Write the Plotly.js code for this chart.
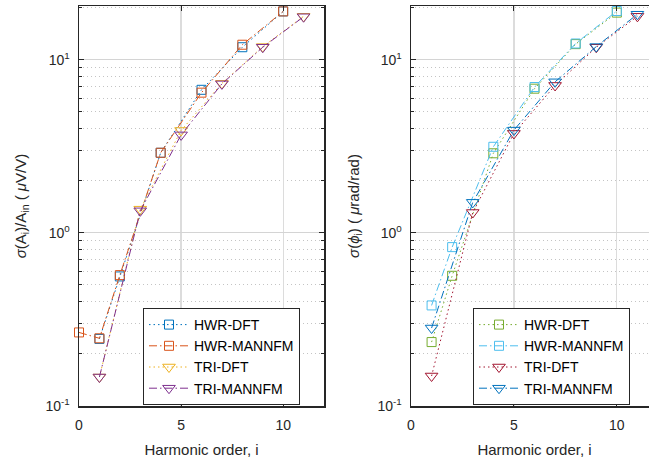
<!DOCTYPE html>
<html>
<head>
<meta charset="utf-8">
<script src="https://cdn.plot.ly/plotly-3.0.1.min.js"></script>
<style>html,body{margin:0;padding:0;overflow:hidden;background:#fff;}#chart{width:660px;height:462px;}</style>
</head>
<body>
<div id="chart"></div>
<script>
// ---- data ----
const iHwr0 = [0, 1, 2, 4, 6, 8, 10];
const iHwr = [1, 2, 4, 6, 8, 10];
const iTri = [1, 3, 5, 7, 9, 11];

// left panel: sigma(A_i)/A_in (uV/V)
const ampHwrDft = [0.244, 0.56, 2.90, 6.7, 11.8, 19.0];
const ampHwrMann = [0.266, 0.246, 0.57, 2.90, 6.45, 12.2, 19.0];
const ampTriDft = [0.147, 1.37, 3.9, 7.3, 11.9, 17.8];
const ampTriMann = [0.147, 1.34, 3.68, 7.25, 11.8, 17.7];

// right panel: sigma(phi_i) (urad/rad)
const phHwrDft = [0.234, 0.565, 2.88, 6.8, 12.3, 18.7];
const phHwrMann = [0.381, 0.827, 3.14, 6.95, 12.4, 19.1];
const phTriDft = [0.149, 1.31, 3.75, 7.1, 11.8, 17.8];
const phTriMann = [0.282, 1.50, 3.92, 7.45, 11.9, 18.3];

const names = ['HWR-DFT', 'HWR-MANNFM', 'TRI-DFT', 'TRI-MANNFM'];
const yTickVals = [0.1, 1, 10];
const yTickText = ['10<sup>-1</sup>', '10<sup>0</sup>', '10<sup>1</sup>'];
const xTickVals = [0, 5, 10];

const W = 660, H = 462;
const FONT = 'Liberation Sans, Arial, sans-serif';
const TXT = '#262626';
const DOT = '1.5px,3px';
const DASHDOT = '8px,3px,1.5px,3px';

function tr(x, y, name, color, dash, sym, size, xa, ya, leg) {
  return {
    x: x, y: y, name: name, type: 'scatter', mode: 'lines+markers',
    xaxis: xa, yaxis: ya, legend: leg, cliponaxis: false,
    line: {color: color, width: 1, dash: dash},
    marker: {symbol: sym, size: size, color: color, line: {color: color, width: 1}}
  };
}

const data = [
  tr(iHwr, ampHwrDft, names[0], '#0072BD', DOT, 'square-open', 9, 'x', 'y', 'legend'),
  tr(iHwr0, ampHwrMann, names[1], '#D95319', DASHDOT, 'square-open', 9, 'x', 'y', 'legend'),
  tr(iTri, ampTriDft, names[2], '#EDB120', DOT, 'triangle-down-open', 11, 'x', 'y', 'legend'),
  tr(iTri, ampTriMann, names[3], '#7E2F8E', DASHDOT, 'triangle-down-open', 11, 'x', 'y', 'legend'),
  tr(iHwr, phHwrDft, names[0], '#77AC30', DOT, 'square-open', 9, 'x2', 'y2', 'legend2'),
  tr(iHwr, phHwrMann, names[1], '#4DBEEE', DASHDOT, 'square-open', 9, 'x2', 'y2', 'legend2'),
  tr(iTri, phTriDft, names[2], '#A2142F', DOT, 'triangle-down-open', 11, 'x2', 'y2', 'legend2'),
  tr(iTri, phTriMann, names[3], '#0072BD', DASHDOT, 'triangle-down-open', 11, 'x2', 'y2', 'legend2')
];

function xax(domain) {
  return {
    domain: domain, range: [0, 12], tickvals: xTickVals, ticks: 'inside', ticklen: 5,
    tickcolor: TXT, tickwidth: 1, showline: true, linecolor: TXT, linewidth: 1.5, mirror: 'ticks',
    showgrid: true, gridcolor: '#dcdcdc', gridwidth: 1.2, zeroline: false,
    ticklabelstandoff: 6,
    tickfont: {family: FONT, size: 14, color: TXT},
    title: {text: 'Harmonic order, i', font: {family: FONT, size: 15, color: TXT}, standoff: 12}
  };
}
function yax(title, anchor, standoff) {
  return {
    type: 'log', domain: [56 / H, 456 / H], range: [-1, 1.31], anchor: anchor,
    tickvals: yTickVals, ticktext: yTickText, ticks: 'inside', ticklen: 5,
    tickcolor: TXT, tickwidth: 1, showline: true, linecolor: TXT, linewidth: 1.5, mirror: 'ticks',
    showgrid: true, gridcolor: '#d4d4d4', gridwidth: 1.2, zeroline: false,
    ticklabelstandoff: 5,
    minor: {dtick: 'D1', ticks: 'inside', ticklen: 3, tickcolor: TXT, showgrid: true,
            gridcolor: '#c4c4c4', griddash: '1px,3px', gridwidth: 1},
    tickfont: {family: FONT, size: 14, color: TXT},
    title: {text: title, font: {family: FONT, size: 15, color: TXT}, standoff: standoff}
  };
}
function leg(x) {
  return {
    x: x / W, y: (H - 308) / H, xanchor: 'left', yanchor: 'top', xref: 'paper', yref: 'paper',
    bgcolor: '#fff', bordercolor: TXT, borderwidth: 1,
    font: {family: FONT, size: 14, color: '#000'}, itemwidth: 40, tracegroupgap: 0
  };
}

const layout = {
  width: W, height: H, margin: {l: 0, r: 0, t: 0, b: 0},
  paper_bgcolor: '#fff', plot_bgcolor: '#fff', showlegend: true,
  xaxis: Object.assign(xax([79 / W, 324 / W]), {anchor: 'y'}),
  yaxis: yax('<i>σ</i>(A<sub>i</sub>)/A<sub>in</sub> ( <i>μ</i>V/V)', 'x', 15),
  xaxis2: Object.assign(xax([411 / W, 658 / W]), {anchor: 'y2'}),
  yaxis2: yax('<i>σ</i>(<i>ϕ</i><sub>i</sub>) ( <i>μ</i>rad/rad)', 'x2', 14),
  legend: leg(143),
  legend2: leg(473)
};

Plotly.newPlot('chart', data, layout, {staticPlot: true, displayModeBar: false});
</script>
</body>
</html>
